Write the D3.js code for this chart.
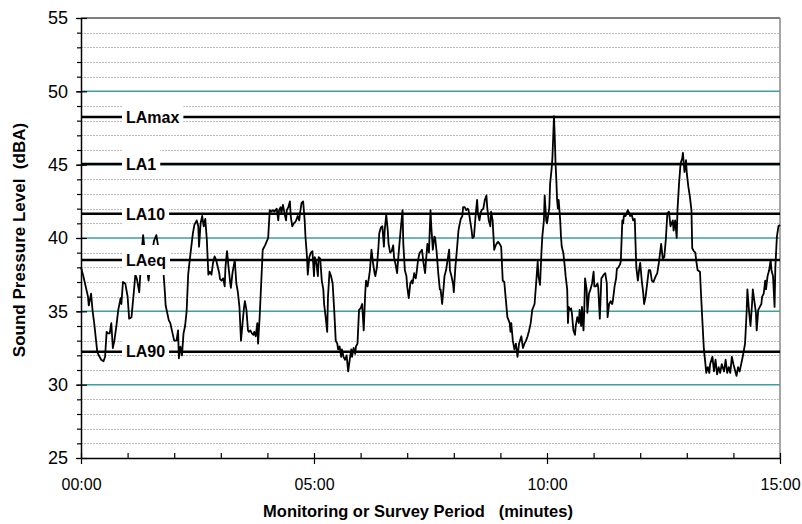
<!DOCTYPE html>
<html><head><meta charset="utf-8">
<script src="https://cdn.jsdelivr.net/npm/d3@7"></script>
<style>body{margin:0;background:#fff}svg{display:block;font-family:"Liberation Sans",Arial,sans-serif}</style>
</head><body><svg id="c" width="802" height="524"></svg>
<script>
// elapsed time (seconds) of each reading
const times = [0,3,6,9,10,13,15,17,19,21,24,26,29,31,33,35,37,39,41,43,46,48,51,52,54,57,60,62,65,68,70,72,75,78,80,83,87,90,94,97,100,103,106,108,109,111,113,115,117,120,123,125,126,128,130,132,134,136,138,140,144,146,149,151,152,154,156,158,160,162,164,166,168,170,172,174,178,179,181,183,185,186,188,190,192,193,195,197,198,200,202,204,206,208,210,211,213,215,216,218,220,222,223,225,227,228,230,232,234,237,239,241,243,245,247,249,252,254,255,257,258,260,262,264,265,267,269,270,272,274,276,277,279,281,282,284,286,288,289,291,292,294,296,298,300,301,303,305,306,308,310,312,313,315,317,318,320,322,324,326,328,330,331,333,335,336,338,340,342,344,346,348,349,351,353,354,356,358,360,362,364,366,367,369,371,372,374,376,378,379,381,383,384,386,388,390,391,393,395,396,398,400,402,403,405,407,408,410,412,414,415,417,419,420,422,424,426,427,429,431,432,434,436,438,439,441,443,444,446,448,450,451,453,455,456,458,460,462,463,465,467,468,470,472,474,475,477,479,480,482,484,486,487,489,491,492,494,496,498,499,501,503,504,506,508,510,511,513,515,516,518,520,522,523,525,527,528,530,532,534,535,537,539,541,543,545,547,549,552,553,554,556,558,560,562,564,567,569,571,573,575,577,579,581,584,586,588,589,591,593,594,596,597,599,600,602,603,604,606,607,608,609,610,611,612,613,614,615,617,618,619,621,623,624,626,627,628,630,631,632,634,636,637,639,641,642,644,645,647,648,649,651,652,654,656,658,660,661,663,665,666,668,670,672,673,675,677,678,680,682,684,685,687,689,690,692,694,695,697,698,699,701,702,704,706,707,709,711,713,714,715,717,719,720,722,724,725,727,729,731,733,735,737,740,742,744,747,749,751,753,755,757,759,762,763,765,767,768,770,772,774,775,777,779,780,782,784,786,787,789,791,792,794,797,798,800,802,804,805,807,809,810,813,815,817,819,821,823,825,828,830,832,834,836,838,840,843,844,846,848,850,852,855,857,858,860,862,864,865,867,869,870,872,874,876,877,879,881,882,884,886,888,889,891,893,894,896,898,900];
// sound pressure level (dBA) at each reading
const levels = [38.0,37.4,36.7,36.0,35.4,36.2,35.0,34.2,33.2,32.2,31.9,31.7,31.6,31.9,33.6,33.5,33.5,34.2,32.5,33.0,34.2,35.1,35.9,35.5,37.0,36.9,36.0,34.5,34.6,36.3,37.5,37.2,36.3,39.0,40.2,38.6,37.1,38.5,39.8,40.2,39.2,38.4,37.8,36.3,35.4,34.9,34.4,34.2,33.7,33.0,33.0,33.7,31.8,32.6,32.0,33.5,34.0,35.0,37.5,38.5,40.3,40.9,41.2,40.8,39.4,41.0,41.5,40.8,41.3,39.9,37.5,37.7,37.5,38.3,38.75,38.5,37.6,37.2,37.1,37.25,36.7,38.0,39.1,38.0,37.0,36.6,37.6,38.2,38.5,36.9,36.3,35.3,33.0,34.2,35.3,35.7,35.1,33.7,33.6,33.7,33.5,33.4,33.6,33.3,34.2,32.8,34.6,36.9,39.2,39.5,39.75,40.0,41.9,41.8,41.9,41.8,42.0,41.2,41.9,42.1,41.7,42.25,41.7,41.2,41.9,42.1,42.5,41.5,40.8,41.0,41.1,41.2,41.5,41.2,41.7,42.4,42.5,41.2,40.1,38.7,37.5,38.7,39.0,39.1,37.4,38.7,38.3,37.4,38.7,38.6,37.1,36.5,35.5,34.6,33.6,36.0,37.7,37.4,36.9,35.1,33.0,32.8,32.4,32.6,31.9,32.4,31.9,31.7,32.0,30.9,31.7,32.4,31.9,32.5,32.1,32.6,32.8,35.1,35.2,35.5,33.7,36.3,37.1,36.7,37.4,37.8,39.2,38.3,37.6,37.4,38.0,39.4,40.3,40.7,40.8,39.4,40.5,41.6,40.5,39.6,39.0,39.1,39.5,38.7,38.2,37.6,38.3,39.6,40.8,41.9,39.6,37.8,37.4,36.7,35.9,36.9,37.1,36.9,37.6,37.25,37.6,38.5,39.0,39.1,39.2,38.3,37.6,38.3,39.6,39.0,41.9,40.8,39.2,40.1,40.0,39.0,37.6,36.5,36.5,35.5,36.7,37.4,37.8,38.5,39.2,37.8,37.4,36.9,36.3,38.0,39.2,40.5,40.8,41.3,41.5,42.1,42.1,41.9,42.0,41.9,41.2,40.5,40.0,40.1,41.5,42.6,41.7,41.2,41.8,41.9,42.0,42.6,42.9,42.1,41.2,40.8,41.8,41.2,39.2,39.5,39.6,39.75,39.6,39.4,37.1,37.0,35.8,34.6,34.2,33.6,34.2,33.0,32.4,32.8,31.9,32.8,33.3,32.5,32.8,33.0,33.3,33.7,34.2,35.1,35.5,36.9,38.4,37.4,36.8,39.2,40.1,41.2,42.9,41.2,41.0,41.7,42.1,43.7,44.75,45.5,46.9,48.3,46.9,45.1,44.0,42.6,42.0,42.6,41.2,40.1,39.4,39.0,38.0,37.4,36.5,34.2,35.3,35.1,35.2,34.9,33.7,33.4,34.0,34.6,34.2,35.1,34.0,35.3,33.7,35.1,37.25,36.5,34.9,36.2,36.5,36.9,37.7,36.7,36.7,36.9,36.6,34.5,37.25,37.4,37.5,37.6,36.9,34.6,35.5,35.7,35.5,35.8,36.7,37.25,37.9,38.0,38.2,38.4,41.2,41.0,41.5,41.5,41.6,41.9,41.7,41.5,41.6,41.2,41.3,39.6,38.0,37.1,38.0,38.3,37.1,36.2,35.5,36.0,36.9,37.8,37.8,37.1,37.0,37.4,37.6,38.3,39.6,38.6,38.7,39.9,41.7,41.8,40.8,41.2,40.5,41.2,40.0,41.9,43.7,45.1,45.4,45.8,44.5,45.3,44.4,43.5,42.8,41.9,39.3,39.1,39.0,38.5,37.8,37.7,36.5,34.4,32.4,31.4,30.8,31.2,30.8,31.4,31.9,30.9,31.7,30.7,31.2,30.8,31.4,30.9,31.7,30.8,31.2,30.8,31.9,31.4,30.8,30.6,31.2,30.9,31.4,31.9,32.8,34.9,36.5,35.1,34.0,35.5,36.5,35.7,34.9,33.7,35.1,35.3,35.5,36.0,36.2,37.1,36.5,37.4,37.8,38.5,37.8,37.4,35.3,38.0,40.1,40.8,40.9];

const statNames  = ["LAmax","LA1","LA10","LAeq","LA90"];
const statValues = [48.25,45.05,41.65,38.5,32.25];

const xMajorTicks = [0,300,600,900];
const xTickLabels = ["00:00","05:00","10:00","15:00"];
const yMajorTicks = [25,30,35,40,45,50,55];
const xTitle = "Monitoring or Survey Period   (minutes)";
const yTitle = "Sound Pressure Level  (dBA)";

const svg = d3.select("#c");
const x = d3.scaleLinear().domain([0,900]).range([81,780]);
const y = d3.scaleLinear().domain([25,55]).range([458,18]);
const xL = x(0), xR = x(900);

// minor dotted grid
const minorY = d3.range(26,55).filter(v => v % 5 !== 0);
svg.append("g").selectAll("line").data(minorY).join("line")
  .attr("x1", xL).attr("x2", xR)
  .attr("y1", d => Math.round(y(d)) + 0.5).attr("y2", d => Math.round(y(d)) + 0.5)
  .attr("stroke", "#bdbdbd").attr("stroke-width", 1).attr("stroke-dasharray", "2,1");

// major teal grid
svg.append("g").selectAll("line").data([30,35,40,45,50]).join("line")
  .attr("x1", xL).attr("x2", xR)
  .attr("y1", d => y(d)).attr("y2", d => y(d))
  .attr("stroke", "#3f9f9f").attr("stroke-width", 1.5);

// borders top/right
svg.append("line").attr("x1", xL).attr("x2", xR).attr("y1", y(55)).attr("y2", y(55))
  .attr("stroke", "#000").attr("stroke-width", 1.2);
svg.append("line").attr("x1", xR).attr("x2", xR).attr("y1", y(55)).attr("y2", y(25))
  .attr("stroke", "#888").attr("stroke-width", 1.5);

// data line
const pts = times.map((t, i) => [t, levels[i]]);
svg.append("path").datum(pts)
  .attr("fill", "none").attr("stroke", "#000").attr("stroke-width", 1.8)
  .attr("stroke-linejoin", "round")
  .attr("d", d3.line().x(d => x(d[0])).y(d => y(d[1])));

// statistic lines
svg.append("g").selectAll("line").data(statValues).join("line")
  .attr("x1", xL).attr("x2", xR)
  .attr("y1", d => y(d)).attr("y2", d => y(d))
  .attr("stroke", "#000").attr("stroke-width", 2.5);

// statistic labels with white boxes
const lg = svg.append("g");
statNames.forEach((n, i) => {
  const g = lg.append("g");
  const r = g.append("rect").attr("fill", "#fff");
  const t = g.append("text").attr("x", 126).attr("y", y(statValues[i]))
    .attr("dy", "0.36em").attr("font-weight", "bold").attr("font-size", 16).text(n);
  const w = t.node().getComputedTextLength();
  r.attr("x", 122).attr("width", w + 8).attr("y", y(statValues[i]) - 15).attr("height", 30);
});

// axes
const yAxis = svg.append("g").attr("transform", `translate(${xL},0)`)
  .call(d3.axisLeft(y).tickValues(yMajorTicks).tickSizeInner(5).tickSizeOuter(0).tickPadding(8));
yAxis.selectAll("text").attr("font-size", 18).attr("fill", "#000").attr("font-family", "Liberation Sans, Arial, sans-serif");
svg.append("g").attr("transform", `translate(${xL},0)`)
  .call(d3.axisLeft(y).tickValues(d3.range(25,56)).tickSize(4).tickFormat(""))
  .call(g => g.select(".domain").remove());
svg.append("g").attr("transform", `translate(${xL},0)`)
  .call(d3.axisRight(y).tickValues(yMajorTicks).tickSize(6).tickFormat(""))
  .call(g => g.select(".domain").remove());

const xAxis = svg.append("g").attr("transform", `translate(0,${y(25)})`)
  .call(d3.axisBottom(x).tickValues(xMajorTicks).tickFormat((d, i) => xTickLabels[i])
    .tickSizeInner(6).tickSizeOuter(0).tickPadding(15));
xAxis.selectAll("text").attr("font-size", 16).attr("fill", "#000").attr("font-family", "Liberation Sans, Arial, sans-serif");
svg.append("g").attr("transform", `translate(0,${y(25)})`)
  .call(d3.axisTop(x).tickValues(d3.range(0,901,60)).tickSize(5).tickFormat(""))
  .call(g => g.select(".domain").remove());

svg.selectAll(".domain").attr("stroke-width", 1.5).attr("stroke", "#000");
svg.selectAll(".tick line").attr("stroke", "#000").attr("stroke-width", 1.2);

// titles
svg.append("text").attr("x", 418).attr("y", 517).attr("text-anchor", "middle")
  .attr("font-weight", "bold").attr("font-size", 16.5).style("white-space", "pre").text(xTitle);
svg.append("text").attr("transform", "translate(25,240) rotate(-90)").attr("text-anchor", "middle")
  .attr("font-weight", "bold").attr("font-size", 17).style("white-space", "pre").text(yTitle);
</script></body></html>
